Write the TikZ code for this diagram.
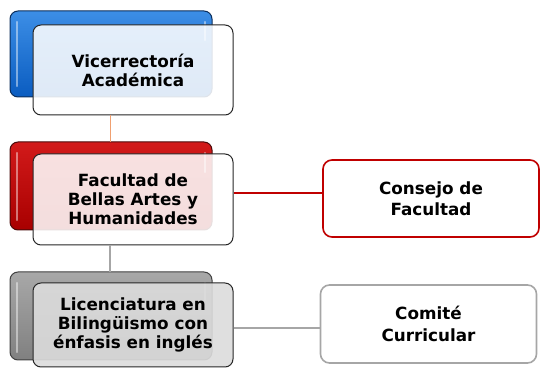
\documentclass[tikz,border=0pt]{standalone}
\usepackage{fontspec}
\setmainfont{DejaVu Sans}
\definecolor{bluetop}{HTML}{3C8EE6}
\definecolor{bluebot}{HTML}{0A5CC0}
\definecolor{blueedge}{HTML}{0B2E5C}
\definecolor{redtop}{HTML}{D21A1A}
\definecolor{redbot}{HTML}{A80000}
\definecolor{rededge}{HTML}{4A0A0A}
\definecolor{graytop}{HTML}{A8A8A8}
\definecolor{graybot}{HTML}{808080}
\definecolor{grayedge}{HTML}{404040}
\definecolor{grayfront}{HTML}{DCDCDC}
\definecolor{redline}{HTML}{C00000}
\definecolor{grayline}{HTML}{A6A6A6}
\definecolor{orangeline}{HTML}{F0A070}
\begin{document}
\begin{tikzpicture}[x=1pt,y=-1pt,
  backbox/.style={rounded corners=8pt, line width=1pt},
  frontbox/.style={rounded corners=8pt, draw=black!85, line width=1pt, fill=white, fill opacity=0.87, text opacity=1,
    font=\bfseries\fontsize{16.8}{19}\selectfont, align=center, inner sep=0pt},
  sidebox/.style={rounded corners=9pt, line width=1.6pt, fill=white,
    font=\bfseries\fontsize{16.8}{21.5}\selectfont, align=center, inner sep=0pt},
  strip/.style={line width=2.5pt, line cap=round, white, opacity=0.45}
]
\useasboundingbox (0,0) rectangle (541,371);
% blue group
\shadedraw[backbox, draw=blueedge, top color=bluetop, bottom color=bluebot] (10,11) rectangle (212,97);
\draw[strip] (17,22) -- (17,86);
\draw[strip] (205,22) -- (205,40);
\node[frontbox, minimum width=200pt, minimum height=90pt] (va) at (133,70) {Vicerrectoría\\Académica};
% red group
\shadedraw[backbox, draw=rededge, top color=redtop, bottom color=redbot] (10,142) rectangle (212,230);
\draw[strip] (17,153) -- (17,220);
\draw[strip] (205,153) -- (205,172);
\node[frontbox, minimum width=200pt, minimum height=91pt] (fb) at (133,199.5) {Facultad de\\Bellas Artes y\\Humanidades};
% gray group
\shadedraw[backbox, draw=grayedge, top color=graytop, bottom color=graybot] (10,272) rectangle (212,360);
\draw[strip] (17,283) -- (17,352);
\draw[strip] (205,283) -- (205,300);
\node[frontbox, fill=grayfront, fill opacity=0.9, minimum width=200pt, minimum height=84pt] (lb) at (133,325) {Licenciatura en\\Bilingüismo con\\énfasis en inglés};
% side boxes
\node[sidebox, draw=redline, minimum width=216pt, minimum height=77pt] (cf) at (431,198.5) {Consejo de\\Facultad};
\node[sidebox, draw=grayline, minimum width=216pt, minimum height=78pt] (cc) at (428.5,324) {Comité\\Curricular};
% connectors
\draw[orangeline, line width=1pt] (va.south -| 110,0) -- (110,142);
\draw[grayline, line width=1.2pt] (fb.south -| 110,0) -- (110,272);
\draw[redline, line width=1.3pt] (fb.east |- 0,193) -- (cf.west |- 0,193);
\draw[grayline, line width=1.3pt] (lb.east |- 0,328) -- (cc.west |- 0,328);
\end{tikzpicture}
\end{document}
